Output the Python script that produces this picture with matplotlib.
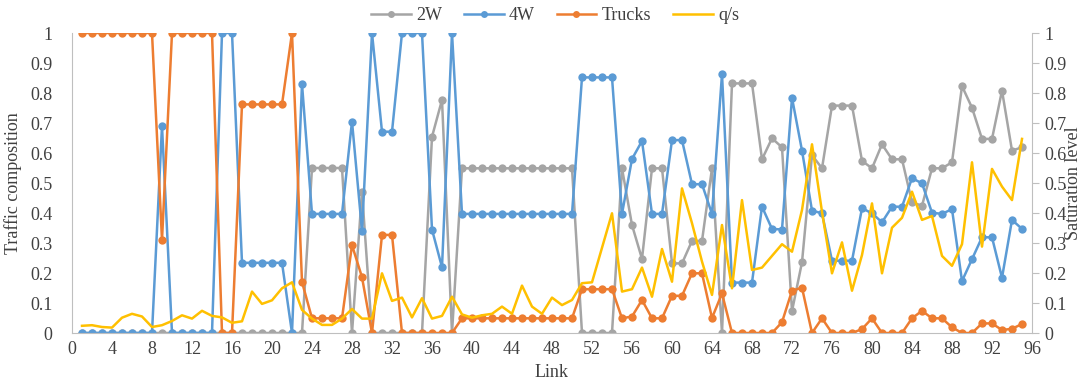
import matplotlib
matplotlib.use("Agg")
import matplotlib.pyplot as plt
from matplotlib.lines import Line2D

links = list(range(1, 96))

two_w = [0, 0, 0, 0, 0, 0, 0, 0, 0, 0,
         0, 0, 0, 0, 0, 0, 0, 0, 0, 0,
         0, 0, 0, 0.55, 0.55, 0.55, 0.55, 0, 0.47, 0,
         0, 0, 0, 0, 0, 0.654, 0.777, 0, 0.549, 0.549,
         0.549, 0.549, 0.549, 0.549, 0.549, 0.549, 0.549, 0.549, 0.549, 0.549,
         0, 0, 0, 0, 0.549, 0.36, 0.247, 0.549, 0.549, 0.232,
         0.232, 0.307, 0.307, 0.549, 0, 0.832, 0.832, 0.832, 0.579, 0.649,
         0.619, 0.073, 0.236, 0.593, 0.549, 0.758, 0.758, 0.758, 0.574, 0.549,
         0.629, 0.579, 0.579, 0.436, 0.424, 0.549, 0.549, 0.569, 0.823, 0.751,
         0.647, 0.647, 0.808, 0.608, 0.619]

four_w = [0, 0, 0, 0, 0, 0, 0, 0, 0.69, 0,
          0, 0, 0, 0, 1, 1, 0.234, 0.234, 0.234, 0.234,
          0.234, 0, 0.83, 0.397, 0.397, 0.397, 0.397, 0.705, 0.341, 1,
          0.671, 0.671, 1, 1, 1, 0.345, 0.219, 1, 0.397, 0.397,
          0.397, 0.397, 0.397, 0.397, 0.397, 0.397, 0.397, 0.397, 0.397, 0.397,
          0.852, 0.852, 0.852, 0.852, 0.397, 0.58, 0.64, 0.397, 0.397, 0.643,
          0.643, 0.496, 0.496, 0.397, 0.863, 0.168, 0.168, 0.168, 0.421, 0.347,
          0.345, 0.784, 0.608, 0.408, 0.399, 0.241, 0.241, 0.241, 0.416, 0.399,
          0.369, 0.421, 0.421, 0.516, 0.499, 0.401, 0.397, 0.413, 0.173, 0.246,
          0.319, 0.319, 0.184, 0.377, 0.347]

trucks = [1, 1, 1, 1, 1, 1, 1, 1, 0.31, 1,
          1, 1, 1, 1, 0, 0, 0.762, 0.762, 0.762, 0.762,
          0.762, 1, 0.17, 0.049, 0.049, 0.049, 0.049, 0.293, 0.186, 0,
          0.327, 0.327, 0, 0, 0, 0, 0, 0, 0.049, 0.049,
          0.049, 0.049, 0.049, 0.049, 0.049, 0.049, 0.049, 0.049, 0.049, 0.049,
          0.146, 0.146, 0.146, 0.146, 0.049, 0.055, 0.11, 0.049, 0.049, 0.124,
          0.124, 0.199, 0.199, 0.05, 0.132, 0, 0, 0, 0, 0,
          0.036, 0.141, 0.151, 0, 0.049, 0, 0, 0, 0.013, 0.049,
          0, 0, 0, 0.049, 0.074, 0.049, 0.049, 0.019, 0, 0,
          0.032, 0.032, 0.01, 0.014, 0.03]

q_s = [0.024, 0.026, 0.02, 0.018, 0.051, 0.064, 0.055, 0.02, 0.026, 0.04,
       0.059, 0.048, 0.074, 0.057, 0.052, 0.034, 0.039, 0.138, 0.097, 0.109,
       0.149, 0.169, 0.077, 0.048, 0.027, 0.027, 0.048, 0.08, 0.048, 0.048,
       0.199, 0.107, 0.118, 0.052, 0.116, 0.048, 0.057, 0.121, 0.062, 0.051,
       0.059, 0.064, 0.088, 0.064, 0.158, 0.088, 0.064, 0.118, 0.093, 0.11,
       0.166, 0.169, 0.284, 0.399, 0.138, 0.146, 0.218, 0.121, 0.28, 0.171,
       0.482, 0.366, 0.238, 0.127, 0.36, 0.149, 0.443, 0.21, 0.218, 0.257,
       0.296, 0.271, 0.41, 0.629, 0.404, 0.199, 0.302, 0.141, 0.26, 0.432,
       0.199, 0.351, 0.384, 0.471, 0.377, 0.39, 0.257, 0.224, 0.296, 0.569,
       0.288, 0.547, 0.488, 0.443, 0.647]

series_names = ["2W", "4W", "Trucks", "q/s"]
x_ticks = list(range(0, 97, 4))
y_ticks = [i / 10 for i in range(11)]
y_tick_labels = ["0", "0.1", "0.2", "0.3", "0.4", "0.5", "0.6", "0.7", "0.8", "0.9", "1"]

C_GRAY = "#A5A5A5"
C_BLUE = "#5B9BD5"
C_ORANGE = "#ED7D31"
C_YELLOW = "#FFC000"
AXIS_C = "#BFBFBF"
TEXT_C = "#404040"

plt.rcParams["font.family"] = ["Liberation Serif", "DejaVu Serif"]

fig = plt.figure(figsize=(10.84, 3.81), dpi=100)
ax = fig.add_axes([72 / 1084, 48 / 381, (1032 - 72) / 1084, 300 / 381])
ax2 = ax.twinx()

mk = dict(marker="o", markersize=6, linewidth=1.8, markeredgewidth=0)
ax.plot(links, two_w, color=C_GRAY, **mk)
ax.plot(links, four_w, color=C_BLUE, **mk)
ax.plot(links, trucks, color=C_ORANGE, **mk)
ax2.plot(links, q_s, color=C_YELLOW, linewidth=1.8)

for a in (ax, ax2):
    a.set_xlim(0, 96)
    a.set_ylim(0, 1)
    a.set_yticks(y_ticks)
    a.set_yticklabels(y_tick_labels)
    for s in a.spines.values():
        s.set_visible(False)
    a.patch.set_visible(False)

ax.set_zorder(ax2.get_zorder() - 1)
ax2.patch.set_visible(False)

ax.spines["left"].set_visible(True)
ax.spines["bottom"].set_visible(True)
ax.spines["left"].set_color(AXIS_C)
ax.spines["bottom"].set_color(AXIS_C)
ax2.spines["right"].set_visible(True)
ax2.spines["right"].set_color(AXIS_C)

ax.set_xticks(x_ticks)
ax.tick_params(axis="x", length=0, labelsize=13, colors=TEXT_C, pad=6)
ax.tick_params(axis="y", length=0, labelsize=13, colors=TEXT_C, pad=14)
ax2.tick_params(axis="y", length=5, width=0.8, color=AXIS_C, labelsize=13,
                labelcolor=TEXT_C, pad=4)

ax.set_xlabel("Link", fontsize=13, color=TEXT_C, labelpad=4)
ax.set_ylabel("Traffic composition", fontsize=13, color=TEXT_C, labelpad=6)
ax2.set_ylabel("Saturation level", fontsize=13, color=TEXT_C, labelpad=-1)

handles = [
    Line2D([], [], color=C_GRAY, marker="o", markersize=5, linewidth=1.8, markeredgewidth=0),
    Line2D([], [], color=C_BLUE, marker="o", markersize=5, linewidth=1.8, markeredgewidth=0),
    Line2D([], [], color=C_ORANGE, marker="o", markersize=5, linewidth=1.8, markeredgewidth=0),
    Line2D([], [], color=C_YELLOW, linewidth=1.8),
]
fig.legend(handles, series_names, loc="center", bbox_to_anchor=(555 / 1084, 1 - 16 / 381),
           ncol=4, frameon=False, fontsize=13, handlelength=2.2, handletextpad=0.3,
           columnspacing=1.2, labelcolor=TEXT_C)

fig.savefig("out.png", dpi=100)
